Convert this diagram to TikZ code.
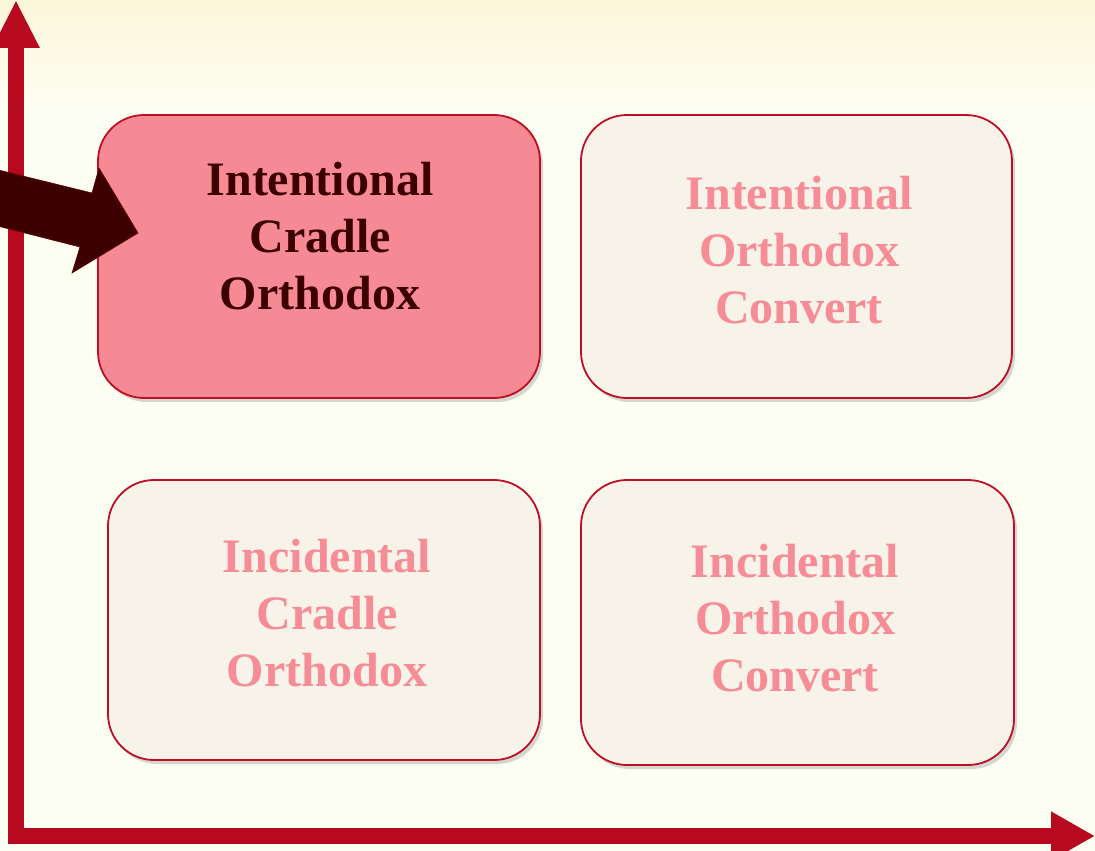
\documentclass[tikz,border=0pt]{standalone}
\usepackage{fontspec}
\setmainfont{Liberation Serif}
\usetikzlibrary{arrows.meta,shadows}
\definecolor{bgc}{HTML}{FDFEF2}
\definecolor{bgtop}{HTML}{FCF6DA}
\definecolor{axisred}{HTML}{B70A1E}
\definecolor{boxline}{HTML}{BE0F28}
\definecolor{pinkfill}{HTML}{F68A94}
\definecolor{creamfill}{HTML}{F8F3E8}
\definecolor{paletext}{HTML}{F58C96}
\definecolor{darktext}{HTML}{3D0000}
\tikzset{
  quad/.style={draw=boxline, line width=1.8pt, rounded corners=46pt, inner sep=0pt,
    drop shadow={shadow xshift=3pt, shadow yshift=-4pt, opacity=0.35, fill=black!45}},
  quadtext/.style={align=center, font=\bfseries\fontsize{48}{57}\selectfont, inner sep=0pt},
  axis/.style={draw=axisred, line width=16pt},
}
\begin{document}
\begin{tikzpicture}[x=1pt,y=-1pt]
\useasboundingbox (0,0) rectangle (1095,851);
\clip (0,0) rectangle (1095,851);
\fill[bgc] (0,0) rectangle (1095,851);
\shade[top color=bgtop, bottom color=bgc] (0,0) rectangle (1095,110);
% axes
\coordinate (yfoot) at (16,844);
\coordinate (ytip) at (16,0);
\coordinate (xfoot) at (8,836);
\coordinate (xtip) at (1095,836);
\draw[axis, -{Triangle[width=44pt,length=48pt]}] (yfoot) -- (ytip);
\draw[axis, -{Triangle[width=46pt,length=44pt]}] (xfoot) -- (xtip);
% boxes
\node[quad, fill=pinkfill, minimum width=442pt, minimum height=283pt] (b1) at (319,256.5) {};
\node[quad, fill=creamfill, minimum width=431pt, minimum height=283pt] (b2) at (796.5,256.5) {};
\node[quad, fill=creamfill, minimum width=432pt, minimum height=280pt] (b3) at (324,620) {};
\node[quad, fill=creamfill, minimum width=433pt, minimum height=285pt] (b4) at (797.5,622.5) {};
% texts
\node[quadtext, text=darktext] (t1) at (320,236) {Intentional\\Cradle\\Orthodox};
\node[quadtext, text=paletext] (t2) at (799,250) {Intentional\\Orthodox\\Convert};
\node[quadtext, text=paletext] (t3) at (327,613) {Incidental\\Cradle\\Orthodox};
\node[quadtext, text=paletext] (t4) at (795,618) {Incidental\\Orthodox\\Convert};
% big pointer arrow
\coordinate (ptip) at (138,233);
\fill[darktext, draw=darktext!80!red, line width=0.6pt]
  (-30,163) -- (92,193) -- (99,168) -- (ptip) -- (72,273) -- (80,247) -- (-30,219) -- cycle;
\end{tikzpicture}
\end{document}
